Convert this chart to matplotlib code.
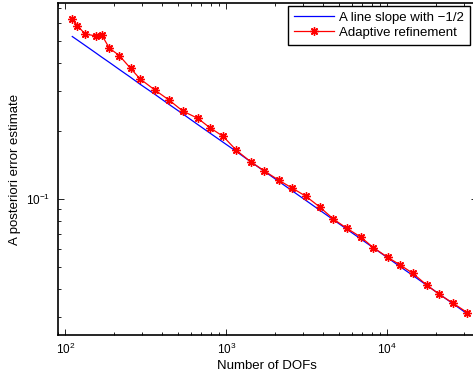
import numpy as np
import matplotlib
matplotlib.use('Agg')
from matplotlib import pyplot as plt
from matplotlib.ticker import LogLocator, NullFormatter

plt.rcParams['font.family'] = ['Liberation Sans', 'DejaVu Sans']
plt.rcParams['font.size'] = 9.5
plt.rcParams['mathtext.fontset'] = 'custom'
plt.rcParams['mathtext.rm'] = 'Liberation Sans'

# number of degrees of freedom for each refinement step
dofs = [110.5, 118.7, 132.6, 155.1, 168.3, 187.6, 216.4, 254.6, 290.9, 360.6,
        440.6, 535.8, 667, 788, 957, 1156, 1418, 1723, 2119, 2548,
        3126, 3819, 4622, 5598, 6868, 8190, 10050, 11990, 14380, 17580,
        21050, 25710, 31410]

# error estimate of the adaptive run
adaptiveErr = [0.624, 0.585, 0.537, 0.526, 0.532, 0.465, 0.431, 0.378, 0.340, 0.303,
               0.274, 0.245, 0.227, 0.207, 0.189, 0.164, 0.146, 0.133, 0.121, 0.112,
               0.1027, 0.0919, 0.0815, 0.0742, 0.0677, 0.0609, 0.0552, 0.0511, 0.0469, 0.0416,
               0.0378, 0.0345, 0.0314]

# reference line with slope -1/2
refLine = [0.523, 0.505, 0.478, 0.442, 0.424, 0.402, 0.374, 0.345, 0.322, 0.290,
           0.262, 0.238, 0.213, 0.196, 0.178, 0.162, 0.146, 0.1325, 0.1195, 0.109,
           0.0984, 0.0890, 0.0809, 0.0735, 0.0664, 0.0608, 0.0549, 0.0502, 0.0459, 0.0415,
           0.0379, 0.0343, 0.0310]

W, H = 473.0, 381.0
fig = plt.figure(figsize=(W / 100, H / 100), dpi=100)
# axes runs a little past the right edge of the picture (cropped original)
axLeft, axRight, axTop, axBottom = 57.5, 477.0, 3.0, 335.0
ax = fig.add_axes([axLeft / W, 1 - axBottom / H, (axRight - axLeft) / W, (axBottom - axTop) / H])

ax.loglog(dofs, refLine, color='blue', linewidth=0.9, label='A line slope with \u22121/2')
ax.loglog(dofs, adaptiveErr, color='red', linewidth=0.9, marker=(8, 2, 0), markersize=6,
          markeredgewidth=1.0, label='Adaptive refinement')

# x limits follow from the pixel positions of the decade ticks
ax.set_xlim(10 ** (2 - 7.8 / 161), 10 ** (4 + (axRight - 387.3) / 161))
ax.set_ylim(0.025, 0.736)

ax.xaxis.set_major_locator(LogLocator(base=10))
ax.yaxis.set_major_locator(LogLocator(base=10))
ax.xaxis.set_minor_locator(LogLocator(base=10, subs=np.arange(2, 10)))
ax.yaxis.set_minor_locator(LogLocator(base=10, subs=np.arange(2, 10)))
ax.xaxis.set_minor_formatter(NullFormatter())
ax.yaxis.set_minor_formatter(NullFormatter())

ax.tick_params(which='both', direction='in', top=True, right=True, labelsize=8.5, pad=5)
ax.tick_params(which='major', length=4, width=0.6)
ax.tick_params(which='minor', length=2.5, width=0.6)
for s in ax.spines.values():
    s.set_linewidth(1.2)

ax.set_xlabel('Number of DOFs', labelpad=2)
ax.set_ylabel('A posteriori error estimate', labelpad=4)

leg = ax.legend(loc='upper left', bbox_to_anchor=(288 / W, 1 - 5.7 / H), bbox_transform=fig.transFigure,
                fancybox=False, edgecolor='black', framealpha=1, fontsize=9.5,
                handlelength=3.0, borderaxespad=0, borderpad=0.45, labelspacing=0.2,
                handletextpad=0.45)
leg.get_frame().set_linewidth(1.0)

fig.savefig('out.png', dpi=100)
